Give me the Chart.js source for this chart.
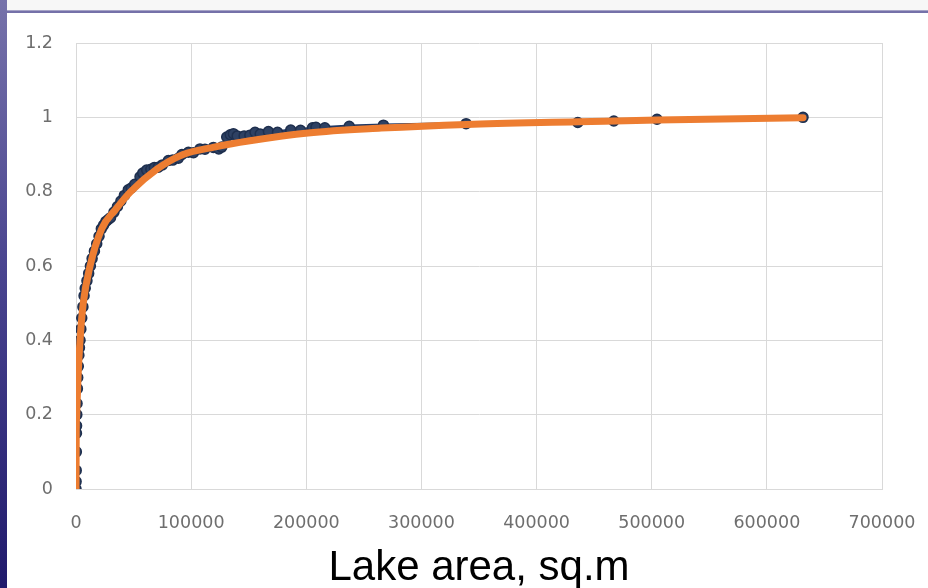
<!DOCTYPE html>
<html>
<head>
<meta charset="utf-8">
<script src="https://cdn.jsdelivr.net/npm/chart.js@4.4.1/dist/chart.umd.min.js"></script>
<style>
  html, body { margin: 0; padding: 0; background: #ffffff; width: 928px; height: 588px; overflow: hidden; }
  #sidebar { position: absolute; left: 0; top: 0; width: 7px; height: 588px;
    background: linear-gradient(to bottom, #7672aa 0%, #4a4590 45%, #201a6c 100%); }
  #topgrey { position: absolute; left: 7px; top: 0; width: 921px; height: 10px; background: #f7f7f7; }
  #topline { position: absolute; left: 7px; top: 10px; width: 921px; height: 3px;
    background: linear-gradient(to bottom, #c9c7dc 0%, #7571a9 40%, #7571a9 100%); }
  #wrap { position: absolute; left: 0; top: 0; width: 928px; height: 588px; }
</style>
</head>
<body>
<div id="wrap"><canvas id="c" width="928" height="588"></canvas></div>
<div id="sidebar"></div>
<div id="topgrey"></div>
<div id="topline"></div>
<script>
// ---- data ----
const axisTitle = 'Lake area, sq.m';
const xTickLabels = ['0','100000','200000','300000','400000','500000','600000','700000'];
const yTickLabels = ['0','0.2','0.4','0.6','0.8','1','1.2'];

// observed series (dark navy, with markers)
const obsX = [0, 100, 200, 300, 400, 500, 700, 900, 1200, 1500, 2000, 2500, 3000, 3500, 4200, 5000,
  6000, 7000, 8000, 9500, 11000, 12500, 14000, 16000, 18000, 20000, 22000, 24000, 26000, 28000,
  30000, 33000, 36000, 39000, 42000, 45400, 48000, 51000, 55600, 58000, 61400, 65000, 68000, 71500,
  75000, 80200, 84000, 88900, 92000, 97600, 102000, 107700, 112000, 119300, 124000, 126600, 130900,
  134000, 136700, 140000, 146000, 151000, 155500, 160000, 167100, 175000, 186500, 195000, 205400,
  208400, 216100, 237300, 267000, 338800, 435800, 467100, 504600, 631400];
const obsY = [0, 0.02, 0.05, 0.1, 0.15, 0.17, 0.2, 0.23, 0.27, 0.3, 0.33, 0.36, 0.38, 0.4, 0.43, 0.46,
  0.49, 0.52, 0.54, 0.56, 0.58, 0.6, 0.62, 0.64, 0.66, 0.68, 0.7, 0.71, 0.72, 0.725,
  0.73, 0.745, 0.76, 0.775, 0.79, 0.805, 0.81, 0.82, 0.84, 0.85, 0.858, 0.86, 0.865, 0.866,
  0.872, 0.884, 0.885, 0.89, 0.9, 0.906, 0.905, 0.915, 0.914, 0.919, 0.915, 0.92, 0.947,
  0.953, 0.956, 0.95, 0.95, 0.952, 0.96, 0.955, 0.962, 0.96, 0.966, 0.965, 0.972,
  0.973, 0.972, 0.976, 0.979, 0.983, 0.986, 0.99, 0.995, 1.0];

// fitted curve (orange)
const fitX = [0, 200, 600, 1750, 3500, 6300, 12200, 22300, 33900, 47500, 70000, 93000, 120000,
  151000, 201500, 265000, 339000, 436000, 505000, 631400];
const fitY = [0, 0.15, 0.2, 0.3, 0.4, 0.5, 0.6, 0.7, 0.75, 0.8, 0.86, 0.9, 0.92,
  0.937, 0.958, 0.971, 0.981, 0.988, 0.993, 0.999];

const obsPoints = obsX.map((x, i) => ({ x: x, y: obsY[i] }));
const fitPoints = fitX.map((x, i) => ({ x: x, y: fitY[i] }));

const titlePlugin = {
  id: 'bottomTitle',
  afterDraw(chart) {
    const ctx = chart.ctx;
    ctx.save();
    ctx.fillStyle = '#000000';
    ctx.font = '42px "Liberation Sans", Arial, sans-serif';
    ctx.textAlign = 'center';
    ctx.textBaseline = 'alphabetic';
    ctx.fillText(axisTitle, (chart.chartArea.left + chart.chartArea.right) / 2, 580);
    ctx.restore();
  }
};

const tickFont = { family: '"DejaVu Sans", sans-serif', size: 17.5 };
const tickColor = '#6e6e6e';
const gridColor = '#d9d9d9';

new Chart(document.getElementById('c'), {
  type: 'line',
  data: {
    datasets: [
      {
        label: 'Fit',
        data: fitPoints,
        borderColor: '#ed7d31',
        backgroundColor: '#ed7d31',
        borderWidth: 7,
        borderCapStyle: 'round',
        borderJoinStyle: 'round',
        pointRadius: 0,
        cubicInterpolationMode: 'monotone',
        fill: false,
        order: 0
      },
      {
        label: 'Observed',
        data: obsPoints,
        borderColor: '#203864',
        backgroundColor: '#2a3d5e',
        borderWidth: 3.5,
        pointRadius: 5,
        pointBorderWidth: 1.5,
        pointBorderColor: '#1e2f4e',
        pointBackgroundColor: '#2e4163',
        tension: 0,
        fill: false,
        order: 1
      }
    ]
  },
  options: {
    responsive: false,
    animation: false,
    devicePixelRatio: 1,
    layout: { padding: { left: 0, top: 43, right: 46, bottom: 0 } },
    plugins: { legend: { display: false }, tooltip: { enabled: false }, title: { display: false } },
    scales: {
      x: {
        type: 'linear',
        min: 0, max: 700000,
        afterFit(scale) { scale.height = 99; scale.paddingLeft = 0; scale.paddingRight = 0; },
        afterBuildTicks(scale) {
          scale.ticks = xTickLabels.map(v => ({ value: Number(v) }));
        },
        ticks: {
          font: tickFont, color: tickColor, padding: 24, maxRotation: 0, autoSkip: false,
          callback(value, index) { return xTickLabels[index]; }
        },
        grid: { color: gridColor, lineWidth: 1, drawTicks: false },
        border: { display: true, color: gridColor, width: 1 }
      },
      y: {
        type: 'linear',
        min: 0, max: 1.2,
        afterFit(scale) { scale.width = 76; scale.paddingTop = 0; scale.paddingBottom = 0; },
        afterBuildTicks(scale) {
          scale.ticks = yTickLabels.map(v => ({ value: Number(v) }));
        },
        ticks: {
          font: tickFont, color: tickColor, padding: 23,
          callback(value, index) { return yTickLabels[index]; }
        },
        grid: { color: gridColor, lineWidth: 1, drawTicks: false },
        border: { display: true, color: gridColor, width: 1 }
      }
    }
  },
  plugins: [titlePlugin]
});
</script>
</body>
</html>
